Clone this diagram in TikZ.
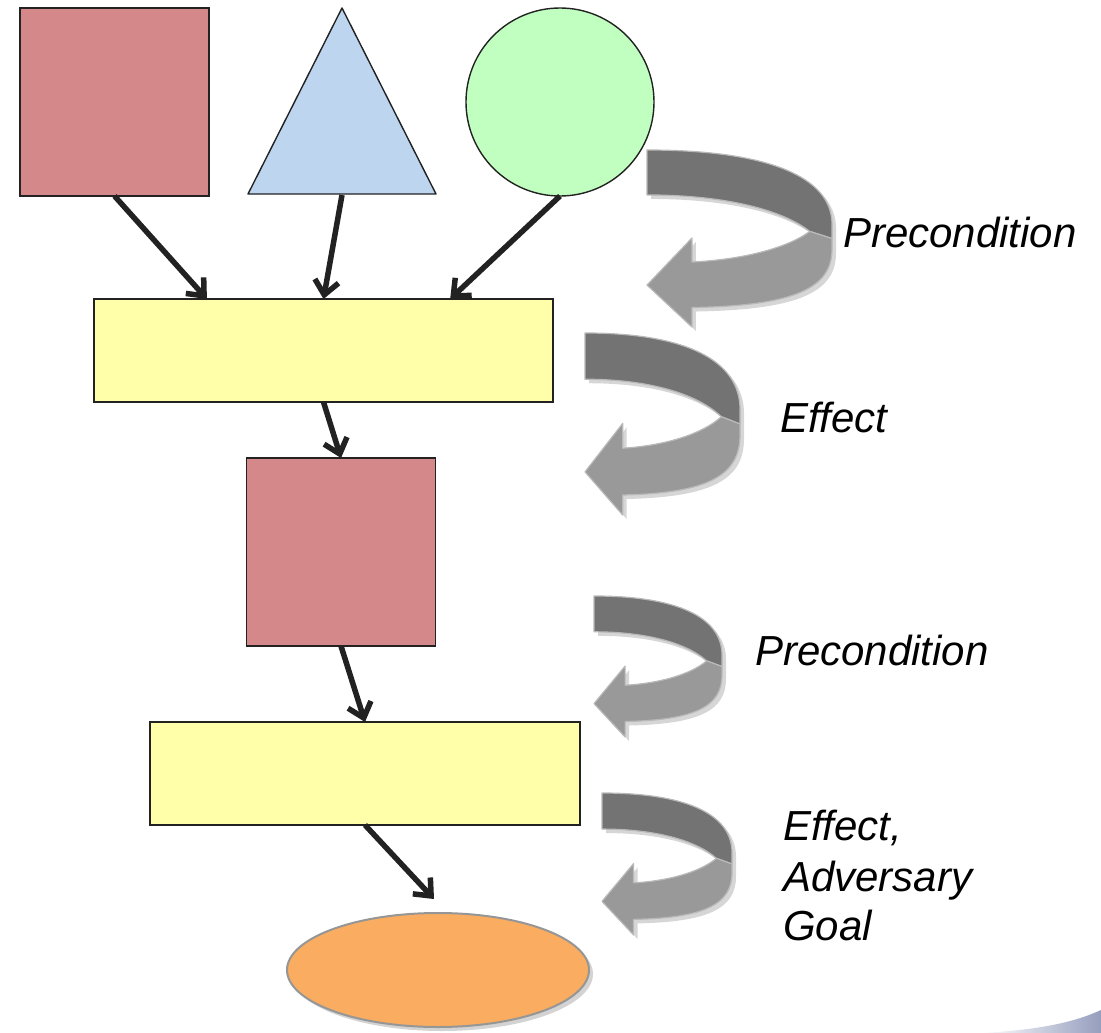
\documentclass[tikz,border=0pt]{standalone}
\usepackage{fontspec}
\setmainfont{Liberation Sans}
\usetikzlibrary{arrows.meta,calc,shadows,shapes.geometric}
\definecolor{redfill}{RGB}{212,136,138}
\definecolor{bluefill}{RGB}{189,213,239}
\definecolor{greenfill}{RGB}{192,255,192}
\definecolor{yellowfill}{RGB}{255,255,170}
\definecolor{orangefill}{RGB}{250,173,96}
\definecolor{ribbondark}{RGB}{115,115,115}
\definecolor{ribbonlight}{RGB}{153,153,153}
\definecolor{ribbonedge}{RGB}{185,185,185}
\definecolor{linedark}{RGB}{34,34,34}
\newcommand{\uturnarrow}[4]{%
  \begin{scope}[shift={(#1+4,#2+4)}, xscale=#3, yscale=#4]
    \fill[black, opacity=0.16] (0,0) .. controls (0.65,0) and (1,0.15) .. (1,0.42)
      -- (1,0.56) .. controls (1,0.78) and (0.8,0.88) .. (0.243,0.89) -- (0.243,1) -- (0,0.763)
      -- (0.243,0.497) -- (0.243,0.633) .. controls (0.5,0.62) and (0.75,0.56) .. (0.88,0.46)
      .. controls (0.72,0.33) and (0.4,0.254) .. (0,0.254) -- cycle;
  \end{scope}
  \begin{scope}[shift={(#1,#2)}, xscale=#3, yscale=#4]
    \filldraw[ribbon, fill=ribbondark] (0,0) .. controls (0.65,0) and (1,0.15) .. (1,0.42)
      -- (1,0.5) -- (0.88,0.46) .. controls (0.72,0.33) and (0.4,0.254) .. (0,0.254) -- cycle;
    \filldraw[ribbon, fill=ribbonlight] (0.88,0.46) .. controls (0.75,0.56) and (0.5,0.62) .. (0.243,0.633)
      -- (0.243,0.497) -- (0,0.763) -- (0.243,1) -- (0.243,0.89)
      .. controls (0.8,0.88) and (1,0.78) .. (1,0.56) -- (1,0.5) -- cycle;
  \end{scope}}
\begin{document}
\begin{tikzpicture}[x=1pt,y=-1pt,
  shapebox/.style={draw=linedark, line width=1.4pt, inner sep=0pt, outer sep=0pt},
  sqbox/.style={shapebox, fill=redfill, minimum width=189pt, minimum height=188pt},
  ybox/.style={shapebox, fill=yellowfill, minimum height=103pt},
  link/.style={draw=linedark, line width=5.5pt, -{Straight Barb[length=14pt,width=24pt,line width=5.5pt]}},
  ribbon/.style={draw=ribbonedge, line width=1.2pt, line join=round},
  lbl/.style={anchor=base west, inner sep=0pt, font=\fontsize{42}{50}\selectfont\itshape, text=black}]
\useasboundingbox (0,0) rectangle (1101,1033);
% bottom-right decoration
\shade[left color=white, right color={rgb,255:red,150;green,158;blue,190}]
  (980,1033) .. controls (1040,1030) and (1075,1022) .. (1101,1010) -- (1101,1033) -- cycle;
% shapes
\node[sqbox] (sq1) at (114.5,102) {};
\filldraw[draw=linedark, line width=1.4pt, fill=bluefill, line join=round] (248,194) -- (342,8) -- (436,194) -- cycle;
\coordinate (trib) at (342,195);
\node[shapebox, circle, fill=greenfill, minimum size=188pt] (circ) at (560,102) {};
\node[ybox, minimum width=459pt] (y1) at (323.5,350.5) {};
\node[sqbox] (sq2) at (341,552) {};
\node[ybox, minimum width=430pt] (y2) at (365,773.5) {};
\node[ellipse, draw={rgb,255:red,150;green,150;blue,150}, line width=2pt, fill=orangefill,
  minimum width=302pt, minimum height=114pt, inner sep=0pt,
  drop shadow={shadow xshift=4pt, shadow yshift=-4pt, opacity=0.35}] (goal) at (438,970) {};
\coordinate (goalin) at (434,899);
% connectors
\draw[link] (sq1.south) -- ($(y1.north west)!0.246!(y1.north east)$);
\draw[link] (trib) -- (y1.north);
\draw[link] (circ.south) -- ($(y1.north west)!0.776!(y1.north east)$);
\draw[link] (y1.south) -- (sq2.north);
\draw[link] (sq2.south) -- (y2.north);
\draw[link] (y2.south) -- (goalin);
% u-turn arrows
\uturnarrow{647}{150}{185}{177}
\uturnarrow{585}{333}{155}{182}
\uturnarrow{594}{596}{128}{141}
\uturnarrow{602}{793}{130}{142}
% labels
\node[lbl] (l1) at (843,247) {Precondition};
\node[lbl] (l2) at (780,432) {Effect};
\node[lbl] (l3) at (755,665) {Precondition};
\node[lbl] (l4) at (783,840) {Effect,};
\node[lbl] (l5) at (783,891) {Adversary};
\node[lbl] (l6) at (783,940) {Goal};
\end{tikzpicture}
\end{document}
